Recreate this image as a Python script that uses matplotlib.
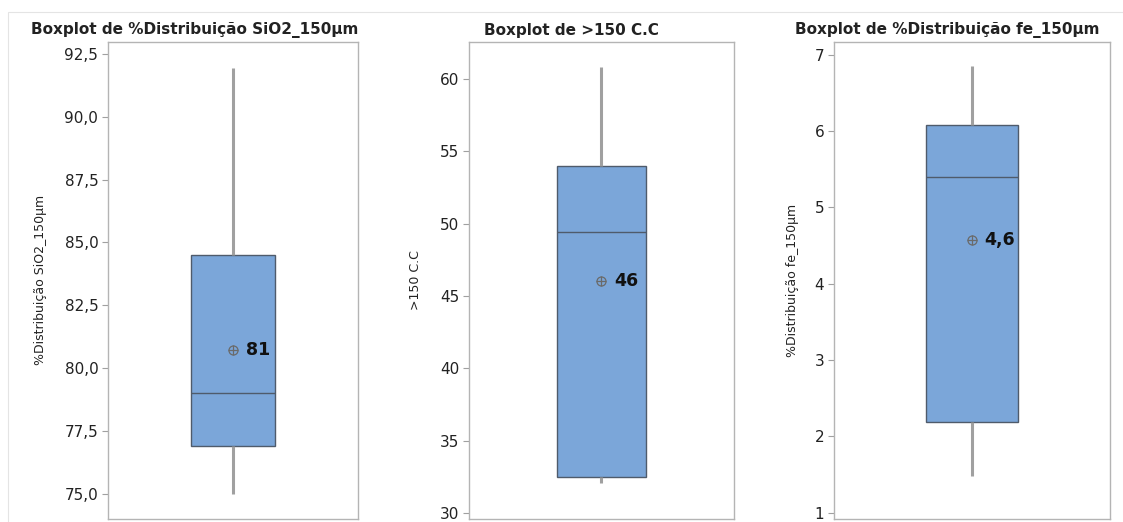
import matplotlib as mpl
import matplotlib.pyplot as plt
import numpy as np
from matplotlib.ticker import FixedLocator, FuncFormatter
from matplotlib.patches import Rectangle

mpl.rcParams["font.family"] = ["DejaVu Sans"]

BOXCOL = '#7ba6d9'
EDGECOL = '#4f5b6b'
WHISKCOL = '#a0a0a0'
SPINECOL = '#b4b4b4'

# summary values
titles = ['Boxplot de %Distribuição SiO2_150µm', 'Boxplot de >150 C.C',
          'Boxplot de %Distribuição fe_150µm']
ylabels = ['%Distribuição SiO2_150µm', '>150 C.C', '%Distribuição fe_150µm']
q1 = [76.9, 32.45, 2.19]
med = [79.0, 49.4, 5.40]
q3 = [84.5, 54.0, 6.08]
whislo = [74.97, 32.1, 1.48]
whishi = [91.95, 60.8, 6.85]
means = [80.7, 46.0, 4.57]
mean_labels = ['81', '46', '4,6']
yticks = [[75.0, 77.5, 80.0, 82.5, 85.0, 87.5, 90.0, 92.5],
          [30, 35, 40, 45, 50, 55, 60],
          [1, 2, 3, 4, 5, 6, 7]]
tick_fmt = ['{:.1f}', '{:.0f}', '{:.0f}']
ylims = [(74.0, 92.98), (29.59, 62.56), (0.92, 7.17)]

# layout (figure fractions)
ax_left = [0.0962, 0.4176, 0.7427]
ax_width = [0.2226, 0.2360, 0.2458]
ax_bottom = 0.006
ax_height = 0.914
title_x = [0.1736, 0.5085, 0.8433]
ylab_x = [-0.272, -0.20, -0.152]

fig = plt.figure(figsize=(11.23, 5.22), dpi=100)

# light frame around the graph area
fig.patches.append(Rectangle((8/1123., -0.1), 1.2, 1.1 - 12/522., transform=fig.transFigure,
                             fill=False, edgecolor='#e4e4e4', linewidth=0.8))

for i in range(3):
    ax = fig.add_axes([ax_left[i], ax_bottom, ax_width[i], ax_height])
    stats = [{'q1': q1[i], 'med': med[i], 'q3': q3[i], 'whislo': whislo[i],
              'whishi': whishi[i], 'mean': means[i], 'fliers': []}]
    ax.bxp(stats, positions=[1], widths=0.336, patch_artist=True,
           showcaps=False, showmeans=False,
           boxprops=dict(facecolor=BOXCOL, edgecolor=EDGECOL, linewidth=1.0),
           medianprops=dict(color=EDGECOL, linewidth=1.0),
           whiskerprops=dict(color=WHISKCOL, linewidth=2.2, solid_capstyle='butt'),
           zorder=2)
    # mean symbol: circle with a cross
    ax.plot([1], [means[i]], marker='o', ms=6.5, mfc='none', mec='#6a6a6a', mew=0.9, zorder=4)
    ax.plot([1], [means[i]], marker='+', ms=6.5, mec='#6a6a6a', mew=0.9, zorder=4)
    ax.annotate(mean_labels[i], (1, means[i]), xytext=(9, 0), textcoords='offset points',
                ha='left', va='center', fontsize=12.5, fontweight='bold', color='#111111')

    ax.set_xlim(0.5, 1.5)
    ax.set_ylim(*ylims[i])
    ax.set_xticks([])
    ax.yaxis.set_major_locator(FixedLocator(yticks[i]))
    fmt = tick_fmt[i]
    ax.yaxis.set_major_formatter(FuncFormatter(lambda v, p, fmt=fmt: fmt.format(v).replace('.', ',')))
    ax.tick_params(axis='y', length=4, width=0.8, color='#a0a0a0', labelsize=11,
                   labelcolor='#222222', pad=3)
    for s in ax.spines.values():
        s.set_color(SPINECOL)
        s.set_linewidth(1.0)
    ax.text(ylab_x[i], 0.5, ylabels[i], transform=ax.transAxes, rotation=90,
            ha='center', va='center', fontsize=9, color='#222222')
    fig.text(title_x[i], 0.9425, titles[i], ha='center', va='center',
             fontsize=11, fontweight='bold', color='#222222')

fig.savefig('out.png', dpi=100)
plt.close()
